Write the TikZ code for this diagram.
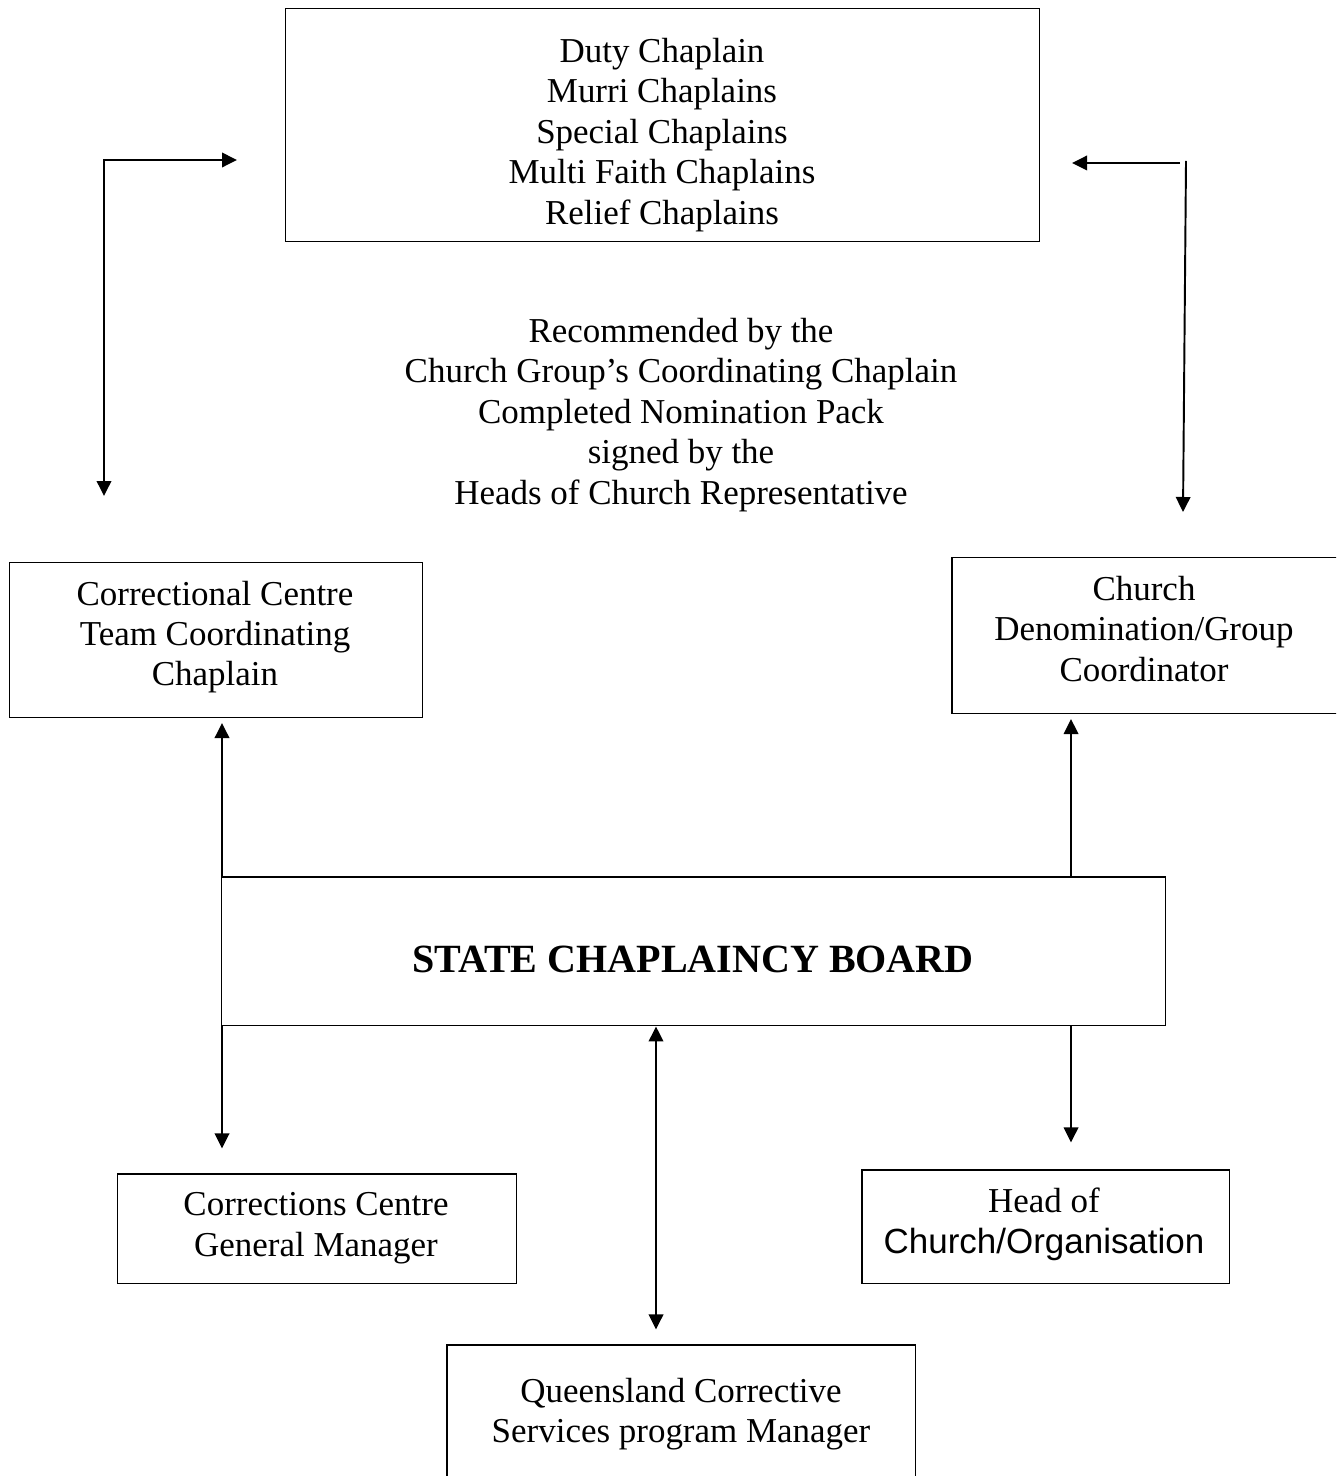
\documentclass[tikz,border=0pt]{standalone}
\usepackage{fontspec}
\setmainfont{Liberation Serif}
\newfontfamily\arialfont{Liberation Sans}
\usetikzlibrary{arrows.meta,calc}
\begin{document}
\begin{tikzpicture}[x=0.02cm,y=-0.02cm,
  box/.style={draw, line width=0.85pt, inner sep=0pt, anchor=north west},
  lbl/.style={align=center, font=\fontsize{19.9}{23}\selectfont, inner sep=0pt},
  conn/.style={line width=1.1pt, -{Triangle[length=0.3cm,width=0.29cm]}},
  dconn/.style={line width=1.1pt, {Triangle[length=0.3cm,width=0.29cm]}-{Triangle[length=0.3cm,width=0.29cm]}},
]
\useasboundingbox (0,0) rectangle (1336,1476);
\clip (0,0) rectangle (1336,1476);

% boxes
\node[box, minimum width=15.08cm, minimum height=4.66cm] (top) at (285,8) {};
\node[box, minimum width=8.26cm, minimum height=3.10cm] (cctcc) at (9,562) {};
\node[box, minimum width=7.90cm, minimum height=3.12cm] (church) at (951,557) {};
\node[box, minimum width=18.88cm, minimum height=2.98cm] (board) at (221,876) {};
\node[box, minimum width=7.98cm, minimum height=2.20cm] (ccgm) at (117,1173) {};
\node[box, minimum width=7.36cm, minimum height=2.28cm] (head) at (861,1169) {};
\node[box, minimum width=9.38cm, minimum height=2.84cm] (qcs) at (446,1344) {};

% texts
\node[lbl] (toptxt) at (662,135) {Duty Chaplain\\Murri Chaplains\\Special Chaplains\\Multi Faith Chaplains\\Relief Chaplains};
\node[lbl] (midtxt) at (681,415) {Recommended by the\\Church Group’s Coordinating Chaplain\\Completed Nomination Pack\\signed by the\\Heads of Church Representative};
\node[lbl] (cctcctxt) at (215,637) {Correctional Centre\\Team Coordinating\\Chaplain};
\node[lbl] (churchtxt) at (1144,629) {Church\\Denomination/Group\\Coordinator};
\node[lbl, font=\fontsize{22.8}{26}\selectfont\bfseries] (boardtxt) at (693,959) {STATE CHAPLAINCY BOARD};
\node[lbl] (ccgmtxt) at (316,1228) {Corrections Centre\\General Manager};
\node[lbl, font=\fontsize{19.9}{23.5}\selectfont] (headtxt) at (1044,1224) {Head of\\{\arialfont Church/Organisation}};
\node[lbl] (qcstxt) at (681,1414) {Queensland Corrective\\Services program Manager};

% left loop arrow
\coordinate (lbot) at (104,496);
\coordinate (lcorner) at (104,160);
\coordinate (ltip) at (237,160);
\draw[dconn] (lbot) -- (lcorner) -- (ltip);

% right arrows
\coordinate (rstart) at (1180,163);
\coordinate (rtip) at (1072,163);
\draw[conn] (rstart) -- (rtip);
\coordinate (rvtop) at (1186,161);
\coordinate (rvbot) at (1183,512);
\draw[conn] (rvtop) -- (rvbot);

% board connectors
\draw[conn] ($(board.north west)+(1,0)$) -- ($(board.north west)+(1,-153)$);
\draw[conn] ($(board.south west)+(1,0)$) -- ($(board.south west)+(1,122)$);
\draw[conn] ($(board.north west)+(850,0)$) -- ($(board.north west)+(850,-157)$);
\draw[conn] ($(board.south west)+(850,0)$) -- ($(board.south west)+(850,116)$);
\draw[dconn] ($(board.south west)+(435,0)$) -- ($(board.south west)+(435,303)$);
\end{tikzpicture}
\end{document}
